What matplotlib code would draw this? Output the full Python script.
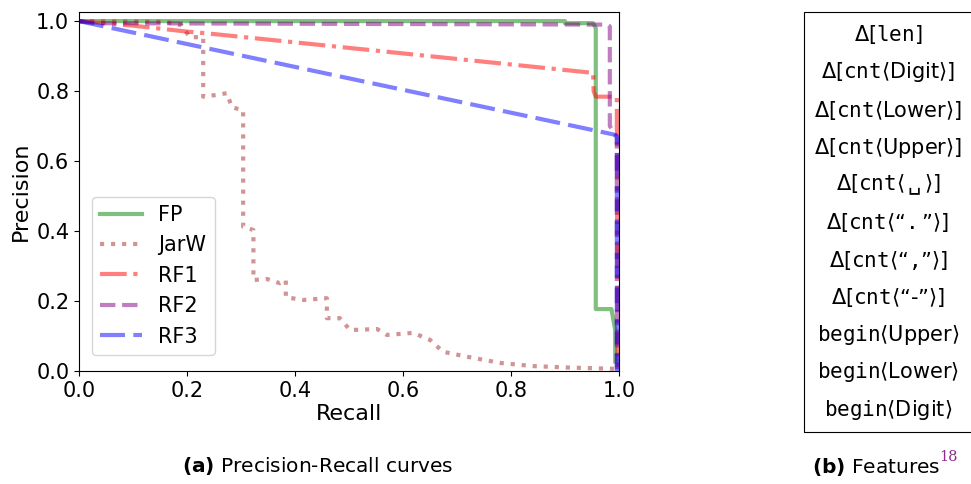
import matplotlib
matplotlib.use("Agg")
import matplotlib.pyplot as plt
from matplotlib.patches import Rectangle

# Precision-recall curves
fp_recall = [0.0, 0.90, 0.90, 0.952, 0.957, 0.957, 0.986, 0.993, 0.993]
fp_prec = [1.0, 1.0, 0.994, 0.994, 0.98, 0.177, 0.177, 0.117, 0.027]

jarw_recall = [0.0, 0.16, 0.19, 0.205, 0.23, 0.23, 0.237, 0.274, 0.283, 0.304,
               0.304, 0.323, 0.323, 0.348, 0.372, 0.383, 0.383, 0.415, 0.459,
               0.459, 0.483, 0.502, 0.552, 0.57, 0.619, 0.65, 0.674, 0.718,
               0.78, 0.841, 0.903, 1.0]
jarw_prec = [1.0, 0.998, 0.988, 0.954, 0.954, 0.784, 0.785, 0.794, 0.754, 0.745,
             0.412, 0.403, 0.26, 0.263, 0.251, 0.26, 0.211, 0.203, 0.208,
             0.151, 0.151, 0.117, 0.12, 0.103, 0.109, 0.089, 0.055, 0.041,
             0.023, 0.014, 0.01, 0.006]

rf1_recall = [0.0, 0.1, 0.2, 0.237, 0.952, 0.953, 0.957, 0.996, 0.997]
rf1_prec = [1.0, 0.987, 0.97, 0.965, 0.852, 0.80, 0.784, 0.784, 0.0]

rf2_recall = [0.0, 0.03, 0.978, 0.983, 0.983, 0.996, 0.996]
rf2_prec = [1.0, 0.994, 0.99, 0.985, 0.70, 0.67, 0.0]

rf3_recall = [0.0, 0.99, 0.996, 0.996]
rf3_prec = [1.0, 0.676, 0.67, 0.0]

x_ticks = [0.0, 0.2, 0.4, 0.6, 0.8, 1.0]
y_ticks = [0.0, 0.2, 0.4, 0.6, 0.8, 1.0]

feature_rows = [
    r"$\Delta[\mathtt{len}]$",
    r"$\Delta[\mathtt{cnt}\langle\mathrm{Digit}\rangle]$",
    r"$\Delta[\mathtt{cnt}\langle\mathrm{Lower}\rangle]$",
    r"$\Delta[\mathtt{cnt}\langle\mathrm{Upper}\rangle]$",
    "$\\Delta[\\mathtt{cnt}\\langle\\,\\mathrm{\u2423}\\,\\rangle]$",
    "$\\Delta[\\mathtt{cnt}\\langle\\mathrm{\u201c}\\mathtt{.}\\mathrm{\u201d}\\rangle]$",
    "$\\Delta[\\mathtt{cnt}\\langle\\mathrm{\u201c}\\mathtt{,}\\mathrm{\u201d}\\rangle]$",
    "$\\Delta[\\mathtt{cnt}\\langle\\mathrm{\u201c}\\mathrm{\u2010}\\mathrm{\u201d}\\rangle]$",
    r"$\mathtt{begin}\langle\mathrm{Upper}\rangle$",
    r"$\mathtt{begin}\langle\mathrm{Lower}\rangle$",
    r"$\mathtt{begin}\langle\mathrm{Digit}\rangle$",
]

W, H = 971, 484
fig = plt.figure(figsize=(W / 100, H / 100), dpi=100)
ax = fig.add_axes([79 / W, 1 - 371 / H, 540 / W, 359 / H])

ax.plot(fp_recall, fp_prec, color="green", alpha=0.5, lw=3, label="FP")
ax.plot(jarw_recall, jarw_prec, color="brown", alpha=0.5, lw=3, ls=":", label="JarW")
ax.plot(rf1_recall, rf1_prec, color="red", alpha=0.5, lw=3, ls="-.", label="RF1")
ax.plot(rf2_recall, rf2_prec, color="purple", alpha=0.5, lw=3, ls="--", label="RF2")
ax.plot(rf3_recall, rf3_prec, color="blue", alpha=0.5, lw=3, dashes=(6, 2), label="RF3")

ax.set_xlim(0, 1.0)
ax.set_ylim(0, 1.026)
ax.set_xticks(x_ticks)
ax.set_yticks(y_ticks)
ax.tick_params(labelsize=15)
ax.set_xlabel("Recall", fontsize=16, labelpad=2)
ax.set_ylabel("Precision", fontsize=16, labelpad=4)
ax.legend(loc="lower left", fontsize=15, handlelength=2.0, borderaxespad=0.6,
          bbox_to_anchor=(0.0, 0.01))

# captions
fig.text(318 / W, 1 - 466 / H, r"$\mathbf{(a)}$ Precision-Recall curves",
         fontsize=14.5, ha="center", va="center")
fig.text(876 / W, 1 - 467 / H, r"$\mathbf{(b)}$ Features",
         fontsize=14.5, ha="center", va="center")
fig.text(939 / W, 1 - 457 / H, "18", fontsize=10.5, color="#8e2a8e",
         family="DejaVu Serif", ha="left", va="center")

# feature table on the right
fig.patches.append(Rectangle((804 / W, 1 - 432 / H), 200 / W, 420 / H,
                             transform=fig.transFigure, fill=False,
                             edgecolor="black", lw=0.8, clip_on=False))
row_top, row_step = 35, 37.5
for i, row in enumerate(feature_rows):
    fig.text(888 / W, 1 - (row_top + i * row_step) / H, row,
             fontsize=15, ha="center", va="center")

fig.savefig("out.png", dpi=100)
